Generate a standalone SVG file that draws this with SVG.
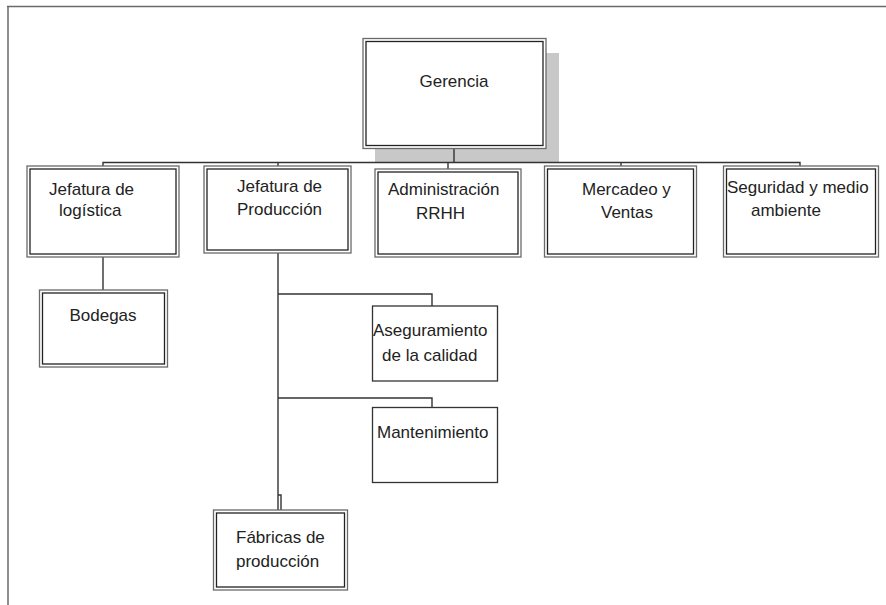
<svg xmlns="http://www.w3.org/2000/svg" width="886" height="605" viewBox="0 0 886 605">
<style>
.o{fill:#fff;stroke:#6a6a6a;stroke-width:1.3}
.i{fill:none;stroke:#222;stroke-width:1.3}
.s{fill:#fff;stroke:#333;stroke-width:1.3}
.c{fill:none;stroke:#333;stroke-width:1.4}
text{font-family:"Liberation Sans",Arial,sans-serif;font-size:17px;fill:#222}
.m{text-anchor:middle}
</style>
<rect width="886" height="605" fill="#fff"/>
<path d="M7 6.5H886M8 6V605" fill="none" stroke="#6a6a6a" stroke-width="1.5"/>
<rect x="375" y="53" width="184" height="109" fill="#c8c8c8"/>
<g id="connectors">
<path class="c" d="M454 148V163" stroke-width="2.2" stroke="#111"/>
<path class="c" d="M103 166V162.5H800V166"/>
<path class="c" d="M278 162.5V166M448 162.5V169M621 162.5V166"/>
<path class="c" d="M103 257V290"/>
<path class="c" d="M278 253V510M278 495H281V510"/>
<path class="c" d="M278 294H432V306M278 398H432V408"/>
</g>
<g id="gerencia"><rect class="o" x="363" y="38.5" width="183" height="110"/><rect class="i" x="366" y="41.5" width="177" height="104"/><text class="m" x="454" y="87">Gerencia</text></g>
<g id="logistica"><rect class="o" x="27" y="166" width="152" height="91"/><rect class="i" x="30" y="169" width="146" height="85"/><text x="49" y="195">Jefatura de</text><text x="59" y="216">logística</text></g>
<g id="produccion"><rect class="o" x="204" y="166" width="147" height="87"/><rect class="i" x="207" y="169" width="141" height="81"/><text x="237" y="192">Jefatura de</text><text x="237" y="215">Producción</text></g>
<g id="administracion"><rect class="o" x="375" y="169" width="146" height="88"/><rect class="i" x="378" y="172" width="140" height="82"/><text x="388" y="195">Administración</text><text x="416" y="219">RRHH</text></g>
<g id="mercadeo"><rect class="o" x="544.5" y="166" width="152" height="91"/><rect class="i" x="547.5" y="169" width="146" height="85"/><text x="582" y="195">Mercadeo y</text><text x="601" y="218">Ventas</text></g>
<g id="seguridad"><rect class="o" x="723.5" y="166" width="155" height="91"/><rect class="i" x="726.5" y="169" width="149" height="85"/><text x="727" y="193">Seguridad y medio</text><text x="751" y="216">ambiente</text></g>
<g id="bodegas"><rect class="o" x="39.5" y="290" width="128" height="77"/><rect class="i" x="42.5" y="293" width="122" height="71"/><text class="m" x="103" y="321">Bodegas</text></g>
<g id="aseguramiento"><rect class="s" x="372.5" y="306" width="125" height="75"/><text x="373" y="336">Aseguramiento</text><text x="382" y="361">de la calidad</text></g>
<g id="mantenimiento"><rect class="s" x="372.5" y="407.5" width="125" height="75"/><text x="377" y="438">Mantenimiento</text></g>
<g id="fabricas"><rect class="o" x="213.5" y="510" width="134" height="80"/><rect class="i" x="216.5" y="513" width="128" height="74"/><text x="236" y="543">Fábricas de</text><text x="236" y="567">producción</text></g>
</svg>
